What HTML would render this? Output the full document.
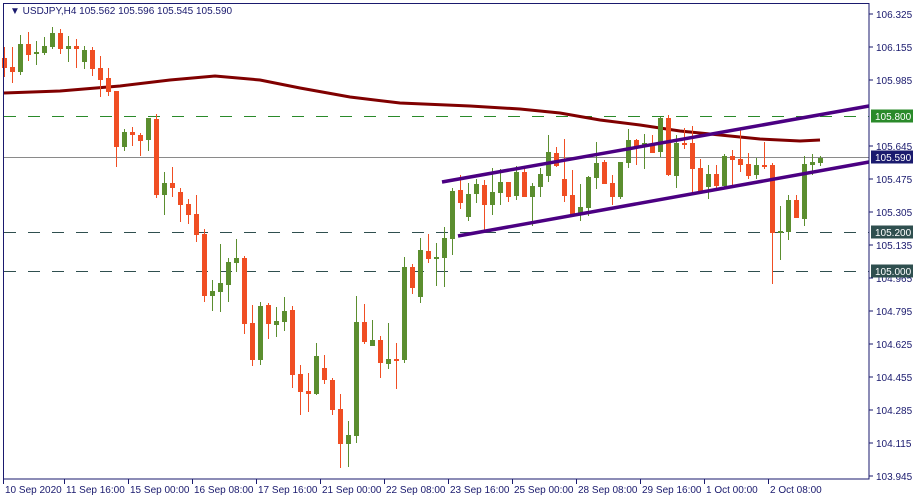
<!DOCTYPE html>
<html><head><meta charset="utf-8"><style>
html,body{margin:0;padding:0;background:#fff;}
svg{display:block;font-family:"Liberation Sans",sans-serif;}
</style></head><body>
<svg id="s" width="915" height="500" viewBox="0 0 915 500" xmlns="http://www.w3.org/2000/svg">
<rect width="915" height="500" fill="#fff"/>
<g id="hl">
<line x1="4" y1="116.5" x2="869" y2="116.5" stroke="#2a8a2a" stroke-width="1" stroke-dasharray="12,12"/>
<line x1="4" y1="157.5" x2="869" y2="157.5" stroke="#8a8a8a" stroke-width="1"/>
<line x1="4" y1="232.5" x2="869" y2="232.5" stroke="#2f4f4f" stroke-width="1" stroke-dasharray="12,12"/>
<line x1="4" y1="271.5" x2="869" y2="271.5" stroke="#2f4f4f" stroke-width="1" stroke-dasharray="12,12"/>
</g>
<polyline fill="none" stroke="#800000" stroke-width="3" points="4,93 60,91 120,86 170,80 215,76 260,80 300,88 350,97 400,103 470,106 520,109 560,113 600,120 640,125 680,131 720,135 760,139 800,141 820,140"/>
<g id="c"></g>
<line x1="442" y1="182" x2="869" y2="106" stroke="#4b0082" stroke-width="3.5"/>
<line x1="458" y1="236" x2="869" y2="162" stroke="#4b0082" stroke-width="3.5"/>
<rect x="3.5" y="3.5" width="865.5" height="475.5" fill="none" stroke="#1a1a6e" stroke-width="1"/>
<text x="10" y="14" font-size="10" fill="#1a1a6e">▼ USDJPY,H4  105.562 105.596 105.545 105.590</text>
<g id="ax" font-size="10" fill="#1a1a6e"></g>
</svg>
<script>
var C=[[4,58,68,47,77],[12,67,72,47,83],[20,72,44,35,75],[28,44,55,32,61],[36,54,52,41,65],[44,53,46,37,55],[52,47,33,27,49],[60,33,49,29,54],[68,49,46,36,62],[76,46,49,39,68],[84,62,50,46,69],[92,50,69,47,76],[100,68,80,56,97],[108,78,92,68,96],[116,91,147,91,167],[124,147,132,129,151],[132,132,135,127,146],[140,135,141,133,156],[148,140,118,118,151],[156,119,195,114,198],[164,195,183,172,215],[172,183,188,167,197],[180,192,205,188,222],[188,204,215,199,224],[196,214,235,195,242],[204,234,296,229,302],[212,296,291,280,311],[220,292,283,244,312],[228,285,262,258,302],[236,263,258,239,272],[244,258,324,256,334],[252,323,360,305,366],[260,360,306,302,365],[268,305,324,303,339],[276,325,321,307,337],[284,322,311,297,331],[292,310,375,306,388],[300,374,392,365,415],[308,391,394,373,412],[316,394,356,343,395],[324,368,380,355,384],[332,380,410,378,415],[340,409,444,394,468],[348,444,435,421,467],[356,436,322,296,443],[364,322,342,304,344],[372,346,340,320,346],[380,340,363,336,378],[388,364,359,323,369],[396,359,361,343,389],[404,360,267,257,363],[412,267,288,264,294],[420,297,250,238,303],[428,251,259,234,263],[436,259,257,243,286],[444,258,238,227,287],[452,239,191,188,255],[460,190,203,175,209],[468,217,194,183,221],[476,194,184,179,203],[484,185,205,180,233],[492,205,192,168,215],[500,193,182,169,205],[508,182,197,182,202],[516,196,172,166,200],[524,172,197,166,197],[532,197,186,183,226],[540,187,174,168,197],[548,176,152,135,182],[556,153,166,147,167],[564,179,196,139,202],[572,195,214,170,216],[580,213,207,184,221],[588,208,177,176,216],[596,178,163,142,189],[604,162,184,160,184],[612,183,197,175,205],[620,197,162,162,199],[628,163,140,129,168],[636,140,147,139,165],[644,147,143,134,169],[652,144,153,135,153],[660,152,118,117,157],[668,118,175,115,176],[676,176,143,135,188],[684,143,144,128,149],[692,143,169,126,194],[700,168,192,159,192],[708,187,174,165,199],[716,174,186,165,191],[724,186,156,154,187],[732,156,160,150,187],[740,159,165,130,172],[748,164,176,153,179],[756,175,165,158,179],[764,165,166,142,169],[772,165,233,163,284],[780,233,231,206,260],[788,232,200,195,240],[796,200,218,195,218],[804,219,164,156,226],[812,165,162,154,175],[820,163,158,156,166]];
var g=document.getElementById('c'),h='';
C.forEach(function(c){var x=c[0],o=c[1],cl=c[2],bull=cl<o,col=bull?'#5b8e2f':'#f04e23';
var t=Math.min(o,cl),b=Math.max(o,cl);if(b-t<2)b=t+2;
h+='<line x1="'+(x+0.5)+'" y1="'+c[3]+'" x2="'+(x+0.5)+'" y2="'+c[4]+'" stroke="'+col+'" stroke-width="1"/>';
h+='<rect x="'+(x-2)+'" y="'+t+'" width="5" height="'+(b-t)+'" fill="'+col+'"/>';});
g.innerHTML=h;
var ax=document.getElementById('ax'),a='';
var P=['106.325','106.155','105.985','105.645','105.475','105.305','105.135','104.965','104.795','104.625','104.455','104.285','104.115','103.945'];
P.forEach(function(p){var y=14+(106.325-parseFloat(p))*194.1;
a+='<line x1="869" y1="'+y.toFixed(1)+'" x2="873" y2="'+y.toFixed(1)+'" stroke="#1a1a6e"/>';
a+='<text x="876" y="'+(y+4).toFixed(1)+'">'+p+'</text>';});
[['105.800',116,'#2a8a2a'],['105.590',157,'#1a1a6e'],['105.200',232,'#2f4f4f'],['105.000',271,'#2f4f4f']].forEach(function(t){
a+='<rect x="871" y="'+(t[1]-6.5)+'" width="42" height="13" fill="'+t[2]+'"/>';
a+='<text x="875" y="'+(t[1]+4)+'" fill="#fff">'+t[0]+'</text>';});
var L=[['10 Sep 2020',5],['11 Sep 16:00',66],['15 Sep 00:00',130],['16 Sep 08:00',194],['17 Sep 16:00',258],['21 Sep 00:00',322],['22 Sep 08:00',386],['23 Sep 16:00',450],['25 Sep 00:00',514],['28 Sep 08:00',578],['29 Sep 16:00',642],['1 Oct 00:00',706],['2 Oct 08:00',770]];
L.forEach(function(l){a+='<line x1="'+(l[1]-1.5)+'" y1="479" x2="'+(l[1]-1.5)+'" y2="484" stroke="#1a1a6e"/>';
a+='<text x="'+l[1]+'" y="493">'+l[0]+'</text>';});
ax.innerHTML=a;
</script>
</body></html>
